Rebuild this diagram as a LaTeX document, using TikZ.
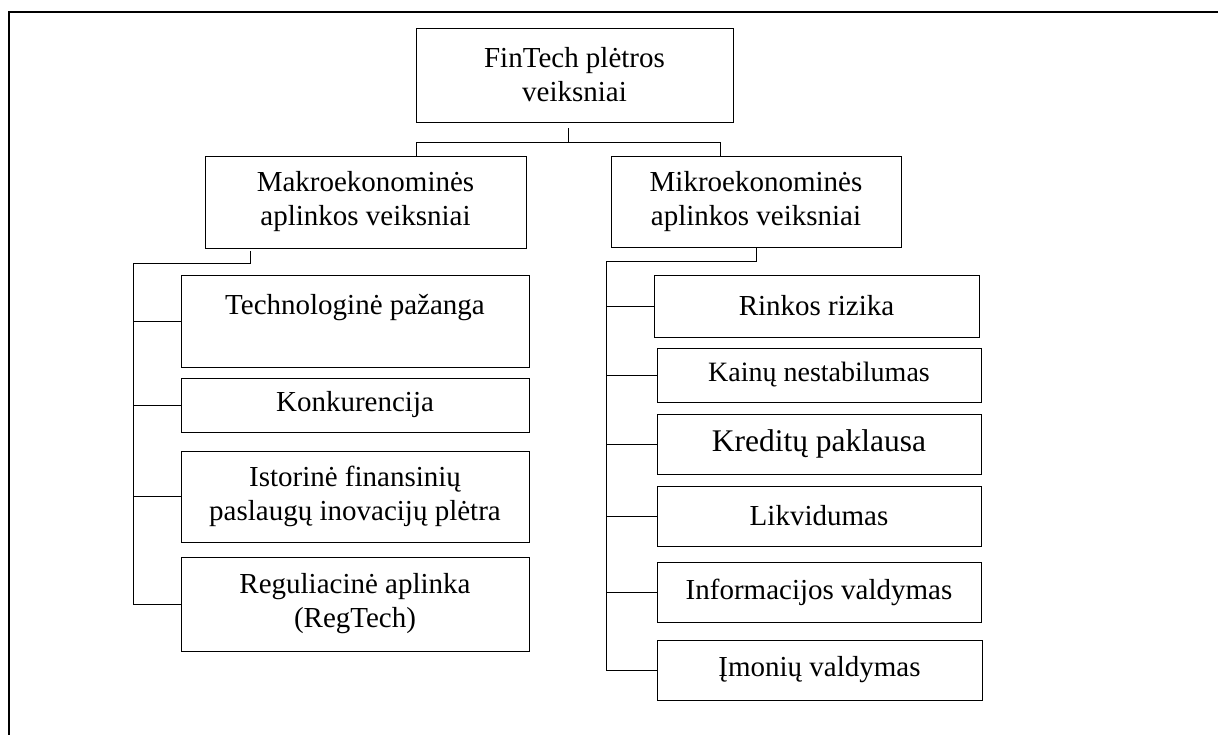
\documentclass[tikz,border=0pt]{standalone}
\usepackage{fontspec}
\setmainfont{Liberation Serif}
\usepackage{tikz}
\usetikzlibrary{positioning, calc}

\begin{document}
\begin{tikzpicture}[x=0.5pt, y=-0.5pt,
    factorbox/.style={draw, line width=0.5pt, inner sep=0pt, outer sep=0pt, align=center,
      font=\fontsize{14.5pt}{17pt}\selectfont},
    link/.style={line width=0.5pt}]
  \useasboundingbox (0,0) rectangle (1218,735);
  \draw[line width=1pt] (1218,12) -- (9,12) -- (9,735);

  \node[factorbox, minimum width=158.5pt, minimum height=47pt] (root) at (574.5,75) {FinTech plėtros\\veiksniai};
  \node[factorbox, minimum width=160.5pt, minimum height=46pt] (makro) at (365.5,202) {Makroekonominės\\aplinkos veiksniai};
  \node[factorbox, minimum width=145pt, minimum height=45.5pt] (mikro) at (756,201.5) {Mikroekonominės\\aplinkos veiksniai};

  % macro side
  \node[factorbox, minimum width=174pt, minimum height=46pt] (tech) at (355,321) {Technologinė pažanga\\\mbox{}};
  \node[factorbox, minimum width=174pt, minimum height=27pt] (konk) at (355,405) {Konkurencija};
  \node[factorbox, minimum width=174pt, minimum height=45.5pt] (istor) at (355,496.5) {Istorinė finansinių\\paslaugų inovacijų plėtra};
  \node[factorbox, minimum width=174pt, minimum height=47pt] (regul) at (355,604) {Reguliacinė aplinka\\(RegTech)};

  % micro side
  \node[factorbox, minimum width=162.5pt, minimum height=31pt] (rinkos) at (816.5,306) {Rinkos rizika};
  \node[factorbox, minimum width=162pt, minimum height=27pt, font=\fontsize{14pt}{17pt}\selectfont] (kainu) at (819,375) {Kainų nestabilumas};
  \node[factorbox, minimum width=162pt, minimum height=30pt, font=\fontsize{15.75pt}{17pt}\selectfont] (kreditu) at (819,444) {Kreditų paklausa};
  \node[factorbox, minimum width=162pt, minimum height=30pt] (likvid) at (819,516) {Likvidumas};
  \node[factorbox, minimum width=162pt, minimum height=30pt] (inform) at (819,592) {Informacijos valdymas};
  \node[factorbox, minimum width=162.5pt, minimum height=30pt] (imoniu) at (819.5,670) {Įmonių valdymas};

  \coordinate (lspine) at ([xshift=-24pt]regul.west);
  \coordinate (rspine) at ([xshift=-25.5pt]imoniu.west);

  \draw[link] ([xshift=-3.25pt,yshift=-3pt]root.south) -- ++(0,-7pt);
  \draw[link] ([xshift=25.25pt]makro.north) -- ++(0,7pt) -| ([xshift=-18pt]mikro.north);

  \draw[link] ([xshift=-57.75pt,yshift=-1.5pt]makro.south) -- ++(0,-6pt) -| (lspine) -- (regul.west);
  \foreach \leaf in {tech, konk, istor}
    \draw[link] (\leaf.west) -- (\leaf.west -| lspine);

  \draw[link] (mikro.south) -- ++(0,-7pt) -| (rspine) -- (imoniu.west);
  \foreach \leaf in {rinkos, kainu, kreditu, likvid, inform}
    \draw[link] (\leaf.west) -- (\leaf.west -| rspine);
\end{tikzpicture}
\end{document}
